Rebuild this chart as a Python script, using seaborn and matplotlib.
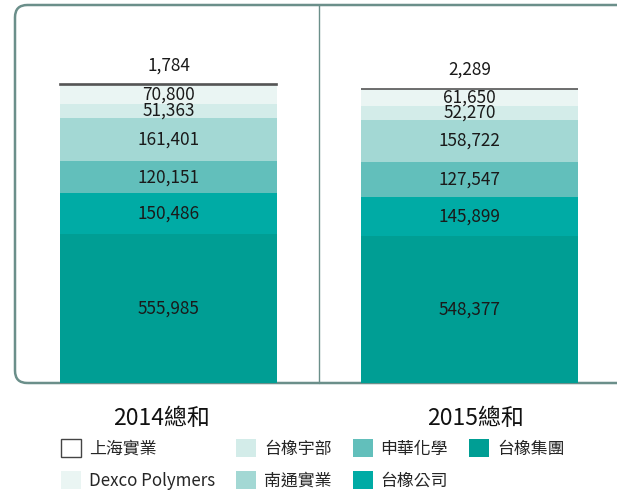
import matplotlib
matplotlib.use("Agg")
import matplotlib.pyplot as plt
from matplotlib.patches import FancyBboxPatch, Patch
from matplotlib.lines import Line2D
import matplotlib.transforms as mtransforms
import seaborn as sns
import pandas as pd
import numpy as np

sns.set_theme(style="white")
plt.rcParams['font.family'] = ['Noto Sans CJK TC', 'DejaVu Sans']

categories = ["2014總和", "2015總和"]
# bottom to top
series = ["台橡集團", "台橡公司", "申華化學", "南通實業", "台橡宇部", "Dexco Polymers", "上海實業"]
v_jituan = [555985, 548377]
v_gongsi = [150486, 145899]
v_shenhua = [120151, 127547]
v_nantong = [161401, 158722]
v_yubu = [51363, 52270]
v_dexco = [70800, 61650]
v_shanghai = [1784, 2289]
values = [v_jituan, v_gongsi, v_shenhua, v_nantong, v_yubu, v_dexco, v_shanghai]
colors = ["#009e94", "#00aba5", "#62bfbb", "#a3d8d4", "#d3ece9", "#eaf5f3", "#ffffff"]
legend_order = ["上海實業", "Dexco Polymers", "台橡宇部", "南通實業", "申華化學", "台橡公司", "台橡集團"]

W, H = 617, 493
fig = plt.figure(figsize=(W / 100, H / 100), dpi=100)
ax = fig.add_axes([13 / W, 110 / H, (W - 13) / W, 379 / H])

bottom = np.zeros(2)
for name, vals, col in zip(series, values, colors):
    df = pd.DataFrame({"cat": categories, "val": vals})
    is_top = name == "上海實業"
    sns.barplot(data=df, x="cat", y="val", order=categories, color=col, saturation=1,
                width=0.721, bottom=bottom.copy(), ax=ax, errorbar=None,
                edgecolor="#555555" if is_top else "none",
                linewidth=1.2 if is_top else 0)
    cont = ax.containers[-1]
    labels = [f"{v:,}" for v in vals]
    if is_top:
        ax.bar_label(cont, labels=labels, label_type="edge", padding=7,
                     fontsize=12.4, color="#1a1a1a")
    else:
        ax.bar_label(cont, labels=labels, label_type="center",
                     fontsize=12.4, color="#1a1a1a")
    bottom = bottom + np.array(vals)

ax.set_xlim(-0.5166, 1.49)
ax.set_ylim(0, 1411800)
ax.set_xlabel("")
ax.set_ylabel("")
ax.set_yticks([])
ax.tick_params(axis="x", length=0, pad=17, labelsize=16.5, labelcolor="#111111")
for lbl, dx in zip(ax.get_xticklabels(), [-7, 6]):
    lbl.set_transform(lbl.get_transform() +
                      mtransforms.ScaledTranslation(dx / 100, 0, fig.dpi_scale_trans))
for s in ax.spines.values():
    s.set_visible(False)
ax.patch.set_alpha(0)

# rounded frame
frame = FancyBboxPatch((15 / W, 110 / H), (660 - 15) / W, (488 - 110) / H,
                       boxstyle="round,pad=0,rounding_size=0.02",
                       transform=fig.transFigure, fill=False,
                       edgecolor="#6b8f8a", linewidth=1.8, zorder=0,
                       mutation_aspect=W / H)
fig.add_artist(frame)
fig.add_artist(Line2D([319 / W, 319 / W], [110 / H, 488 / H], transform=fig.transFigure,
                      color="#6b8f8a", linewidth=1.0))

cmap = dict(zip(series, colors))
handles = []
for n in legend_order:
    if n == "上海實業":
        handles.append(Patch(facecolor="white", edgecolor="#444444", linewidth=1.0))
    else:
        handles.append(Patch(facecolor=cmap[n], edgecolor="none"))
fig.legend(handles, legend_order, loc="upper left", bbox_to_anchor=(61 / W, (H - 439) / H),
           ncol=4, frameon=False, prop={"size": 12.2},
           handlelength=1.2, handleheight=1.3,
           handletextpad=0.45, columnspacing=1.24, labelspacing=0.75, borderpad=0,
           borderaxespad=0)

fig.savefig("out.png", dpi=100)
